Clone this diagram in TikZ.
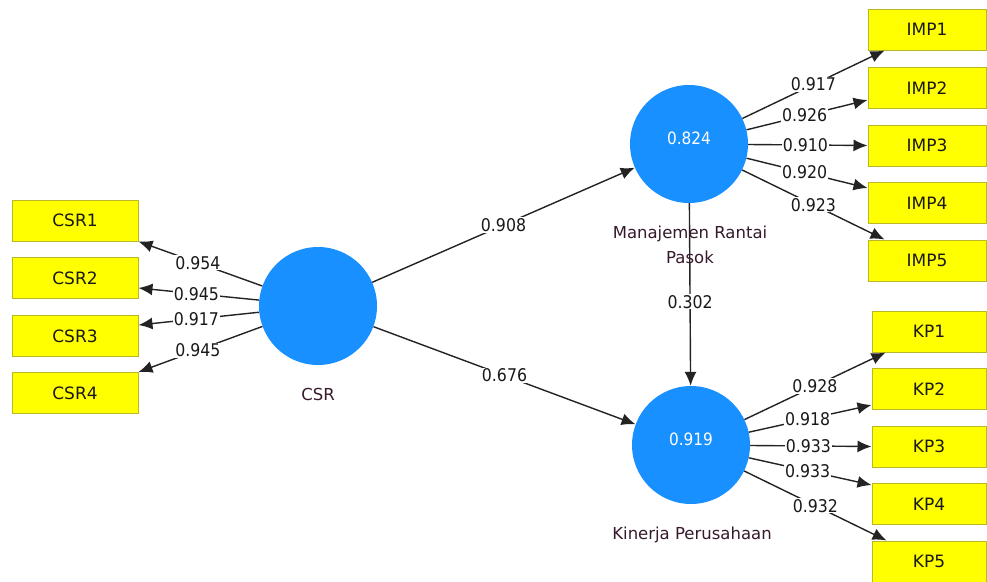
\documentclass[tikz,border=0pt]{standalone}
\usepackage{fontspec}
\setmainfont{DejaVu Sans}
\newfontfamily\numfont{DejaVu Sans Condensed}
\usetikzlibrary{arrows.meta}
\definecolor{latentblue}{RGB}{24,144,255}
\definecolor{boxyellow}{RGB}{255,255,0}
\definecolor{boxedge}{RGB}{185,185,40}
\definecolor{edgegray}{RGB}{35,35,35}
\definecolor{nametext}{RGB}{55,25,45}
\tikzset{
  latent/.style={circle, fill=latentblue, draw=none, minimum size=118pt, inner sep=0pt},
  valtext/.style={text=white, font=\numfont\fontsize{17pt}{20pt}\selectfont, inner sep=0pt},
  nametxt/.style={text=nametext, font=\fontsize{16.5pt}{25pt}\selectfont, align=center, inner sep=0pt},
  indbox/.style={rectangle, fill=boxyellow, draw=boxedge, line width=1pt, inner sep=0pt, minimum height=41pt, font=\fontsize{17pt}{20pt}\selectfont, text=black!90},
  csrbox/.style={indbox, minimum width=126pt},
  impbox/.style={indbox, minimum width=118pt},
  kpbox/.style={indbox, minimum width=114pt},
  conn/.style={draw=edgegray, line width=1.4pt, -{Latex[length=14pt,width=12pt]}},
  coef/.style={fill=white, inner sep=1pt, text=black!90, font=\numfont\fontsize{17.5pt}{20pt}\selectfont}
}
\begin{document}
\begin{tikzpicture}[x=1pt,y=-1pt]
\useasboundingbox[fill=white] (0,0) rectangle (987,581);
% latent variables
\node[latent] (csr) at (318,306) {};
\node[latent] (mrp) at (689,144) {};
\node[latent] (kp) at (691,445) {};
\node[valtext] (mrpv) at (689,138) {0.824};
\node[valtext] (kpv) at (691,439) {0.919};
\node[nametxt] (csrn) at (318,394) {CSR};
\node[nametxt] (kpn) at (692,535) {Kinerja Perusahaan};
% indicators
\node[csrbox] (csr1) at (75,220.5) {CSR1};
\node[csrbox] (csr2) at (75,278) {CSR2};
\node[csrbox] (csr3) at (75,336) {CSR3};
\node[csrbox] (csr4) at (75,393) {CSR4};
\node[impbox] (imp1) at (927,29.5) {IMP1};
\node[impbox] (imp2) at (927,88) {IMP2};
\node[impbox] (imp3) at (927,145.5) {IMP3};
\node[impbox] (imp4) at (927,203) {IMP4};
\node[impbox] (imp5) at (927,260.5) {IMP5};
\node[kpbox] (kp1) at (929,331.5) {KP1};
\node[kpbox] (kp2) at (929,389) {KP2};
\node[kpbox] (kp3) at (929,446.5) {KP3};
\node[kpbox] (kp4) at (929,504) {KP4};
\node[kpbox] (kp5) at (929,561.5) {KP5};
% structural paths
\draw[conn] (mrp) -- node[coef, pos=0.54] (c302) {0.302} (kp);
\node[nametxt] (mrpn) at (690,245) {Manajemen Rantai\\Pasok};
\draw[conn] (csr) -- node[coef, pos=0.5] (c908) {0.908} (mrp);
\draw[conn] (csr) -- node[coef, pos=0.5] (c676) {0.676} (kp);
% CSR loadings
\draw[conn] (csr) -- node[coef, pos=0.52] (l1) {0.954} (csr1.south east);
\draw[conn] (csr) -- node[coef, pos=0.52] (l2) {0.945} ([yshift=-10pt]csr2.east);
\draw[conn] (csr) -- node[coef, pos=0.52] (l3) {0.917} ([yshift=11pt]csr3.east);
\draw[conn] (csr) -- node[coef, pos=0.52] (l4) {0.945} (csr4.north east);
% IMP loadings
\draw[conn] (mrp) -- node[coef, pos=0.5] (m1) {0.917} ([xshift=17pt]imp1.south west);
\draw[conn] (mrp) -- node[coef, pos=0.48] (m2) {0.926} ([yshift=-12pt]imp2.west);
\draw[conn] (mrp) -- node[coef, pos=0.48] (m3) {0.910} (imp3.west);
\draw[conn] (mrp) -- node[coef, pos=0.48] (m4) {0.920} ([yshift=15pt]imp4.west);
\draw[conn] (mrp) -- node[coef, pos=0.5] (m5) {0.923} ([xshift=17pt]imp5.north west);
% KP loadings
\draw[conn] (kp) -- node[coef, pos=0.5] (k1) {0.928} ([xshift=14pt]kp1.south west);
\draw[conn] (kp) -- node[coef, pos=0.48] (k2) {0.918} ([yshift=-16pt]kp2.west);
\draw[conn] (kp) -- node[coef, pos=0.48] (k3) {0.933} (kp3.west);
\draw[conn] (kp) -- node[coef, pos=0.48] (k4) {0.933} ([yshift=19pt]kp4.west);
\draw[conn] (kp) -- node[coef, pos=0.5] (k5) {0.932} ([xshift=15pt]kp5.north west);
\end{tikzpicture}
\end{document}
